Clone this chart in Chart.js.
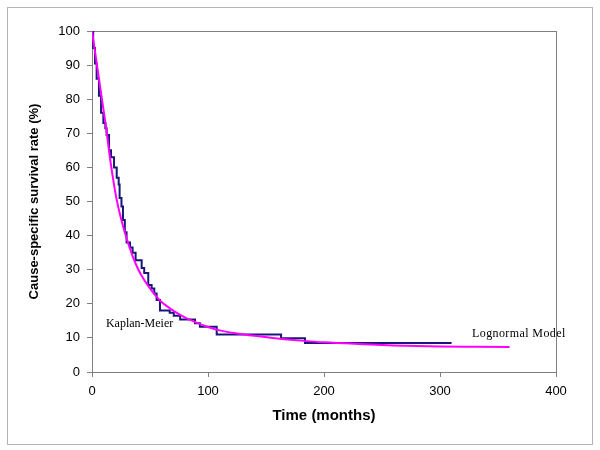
<!DOCTYPE html>
<html>
<head>
<meta charset="utf-8">
<script src="https://cdn.jsdelivr.net/npm/chart.js@4.4.1/dist/chart.umd.min.js"></script>
<style>
  html, body { margin: 0; padding: 0; background: #fff; }
  #wrap { width: 600px; height: 450px; }
</style>
</head>
<body>
<div id="wrap"><canvas id="chartSurvival" width="600" height="450"></canvas></div>
<script>
// Kaplan-Meier: waktu turun (bulan) dan nilai survival sesudahnya (%)
const kmTime = [0, 1, 2.6, 4, 6, 7.8, 9.8, 11.5, 12.6, 14.7, 16.4, 19, 21.3, 23, 23.8, 25.4, 26.7, 28.3, 29.8,
  32.8, 35, 37.6, 42.8, 45, 48.5, 51.4, 53.7, 55.7, 58.6, 67, 70.5, 76, 88.8, 93, 107.5, 163, 183.6, 310];
const kmSurv = [100, 95, 90.5, 86, 81, 76, 73, 71.5, 69.5, 65, 63, 60, 57, 55, 51, 48.5, 44.6, 41, 38,
  36.5, 35, 32.8, 30.5, 29, 25.5, 24.5, 23, 21.1, 18, 17.4, 16.5, 15.4, 14.3, 13.3, 11, 9.9, 8.5, 8.5];

// Lognormal model
const lnTime = [0, 3, 6, 9, 12, 15, 18, 21, 25, 30, 35, 40, 45, 50, 55, 60, 70, 80, 90, 100, 110, 125,
  140, 160, 180, 200, 230, 260, 300, 330, 360];
const lnSurv = [100, 93, 86, 79, 72, 64, 57, 51, 45, 39, 34, 30, 27, 24.5, 22.3, 20.5, 18, 16, 14.5, 13.2,
  12.2, 11.3, 10.6, 9.8, 9.2, 8.7, 8.2, 7.8, 7.5, 7.4, 7.3];

const xTicks = [0, 100, 200, 300, 400];
const yTicks = [0, 10, 20, 30, 40, 50, 60, 70, 80, 90, 100];

const labelKM = { text: 'Kaplan-Meier', x: 12, y: 14.1, spacing: '0px' };
const labelLN = { text: 'Lognormal Model', x: 327.6, y: 11.1, spacing: '0.4px' };

const toPoints = (xs, ys) => xs.map((x, i) => ({ x: x, y: ys[i] }));

// bingkai luar, bingkai plot, dan teks keterangan
const decorPlugin = {
  id: 'decor',
  beforeDraw(chart) {
    const ctx = chart.ctx;
    ctx.save();
    ctx.fillStyle = '#fff';
    ctx.fillRect(0, 0, chart.width, chart.height);
    ctx.strokeStyle = '#b4b4b4';
    ctx.lineWidth = 1;
    ctx.strokeRect(7.5, 7.5, 585, 437);
    ctx.restore();
  },
  beforeDatasetsDraw(chart) {
    const a = chart.chartArea;
    const ctx = chart.ctx;
    ctx.save();
    ctx.strokeStyle = '#808080';
    ctx.lineWidth = 1;
    ctx.strokeRect(Math.round(a.left) + 0.5, Math.round(a.top) + 0.5,
      Math.round(a.right - a.left), Math.round(a.bottom - a.top));
    ctx.restore();
  },
  afterDatasetsDraw(chart) {
    const ctx = chart.ctx;
    const sx = chart.scales.x, sy = chart.scales.y;
    ctx.save();
    ctx.fillStyle = '#000';
    ctx.font = '12px "Liberation Serif", "Times New Roman", serif';
    ctx.textBaseline = 'middle';
    ctx.textAlign = 'left';
    [labelKM, labelLN].forEach(l => {
      ctx.letterSpacing = l.spacing;
      ctx.fillText(l.text, sx.getPixelForValue(l.x), sy.getPixelForValue(l.y));
    });
    ctx.restore();
  }
};

const tickFont = { family: '"Liberation Sans", Arial, sans-serif', size: 13 };

new Chart(document.getElementById('chartSurvival').getContext('2d'), {
  type: 'line',
  data: {
    datasets: [{
      label: 'Kaplan-Meier',
      data: toPoints(kmTime, kmSurv),
      borderColor: '#17177a',
      borderWidth: 2,
      pointRadius: 0,
      stepped: 'before',
      fill: false,
      order: 2
    }, {
      label: 'Lognormal Model',
      data: toPoints(lnTime, lnSurv),
      borderColor: '#ff00ff',
      borderWidth: 2,
      pointRadius: 0,
      cubicInterpolationMode: 'monotone',
      fill: false,
      order: 1
    }]
  },
  plugins: [decorPlugin],
  options: {
    responsive: false,
    animation: false,
    layout: { padding: { top: 31, right: 44, left: 0, bottom: 0 } },
    plugins: {
      legend: { display: false },
      tooltip: { enabled: false }
    },
    scales: {
      x: {
        type: 'linear',
        min: 0, max: 400,
        afterBuildTicks: s => { s.ticks = xTicks.map(v => ({ value: v })); },
        afterFit: s => { s.height = 78; },
        grid: { drawOnChartArea: false, drawTicks: true, tickLength: 5, color: '#808080' },
        border: { color: '#808080' },
        ticks: { color: '#000', font: tickFont, padding: 7, maxRotation: 0 },
        title: {
          display: true,
          text: 'Time (months)',
          color: '#000',
          font: { family: '"Liberation Sans", Arial, sans-serif', size: 15, weight: 'bold' },
          padding: { top: 0, bottom: 25 }
        }
      },
      y: {
        type: 'linear',
        min: 0, max: 100,
        afterBuildTicks: s => { s.ticks = yTicks.map(v => ({ value: v })); },
        afterFit: s => { s.width = 92; },
        grid: { drawOnChartArea: false, drawTicks: true, tickLength: 5, color: '#808080' },
        border: { color: '#808080' },
        ticks: { color: '#000', font: tickFont, padding: 7 },
        title: {
          display: true,
          text: 'Cause-specific survival rate (%)',
          color: '#000',
          font: { family: '"Liberation Sans", Arial, sans-serif', size: 13, weight: 'bold' },
          padding: { top: 27, bottom: 0 }
        }
      }
    }
  }
});
</script>
</body>
</html>
